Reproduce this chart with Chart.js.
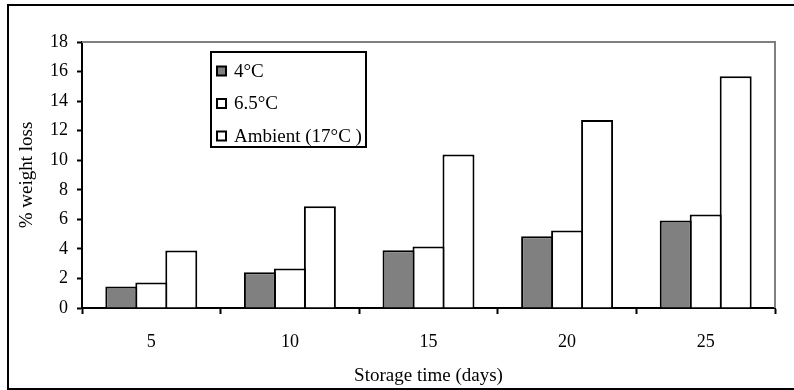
<!DOCTYPE html>
<html>
<head>
<meta charset="utf-8">
<script src="https://cdn.jsdelivr.net/npm/chart.js@4.4.1/dist/chart.umd.min.js"></script>
<style>
	html, body { margin: 0; padding: 0; background: #fff; }
	#wrap { width: 794px; height: 390px; }
</style>
</head>
<body>
<div id="wrap"><canvas id="loss-canvas" width="794" height="390"></canvas></div>
<script>
const days = ["5", "10", "15", "20", "25"];
const loss4C = [1.45, 2.42, 3.91, 4.86, 5.92];
const loss65C = [1.72, 2.67, 4.16, 5.24, 6.33];
const lossAmbient = [3.89, 6.89, 10.39, 12.72, 15.68];
const seriesNames = ["4°C", "6.5°C", "Ambient (17°C )"];
const yTicks = [0, 2, 4, 6, 8, 10, 12, 14, 16, 18];

const serif = "'Liberation Serif', 'DejaVu Serif', serif";

// frame around the figure, gray plot border, boxed legend
const decorations = {
	id: "decorations",
	beforeDraw(chart) {
		const ctx = chart.ctx;
		ctx.save();
		ctx.fillStyle = "#fff";
		ctx.fillRect(0, 0, chart.width, chart.height);
		ctx.strokeStyle = "#000";
		ctx.lineWidth = 2;
		ctx.strokeRect(8, 5, 800, 384);
		ctx.restore();
	},
	afterDatasetsDraw(chart) {
		const ctx = chart.ctx;
		const a = chart.chartArea;
		ctx.save();
		ctx.strokeStyle = "#808080";
		ctx.lineWidth = 2;
		ctx.beginPath();
		ctx.moveTo(a.left, a.top);
		ctx.lineTo(a.right, a.top);
		ctx.lineTo(a.right, a.bottom);
		ctx.stroke();

		// legend
		ctx.fillStyle = "#fff";
		ctx.fillRect(211, 52, 155, 95);
		ctx.strokeStyle = "#000";
		ctx.lineWidth = 2;
		ctx.strokeRect(211, 52, 155, 95);
		ctx.font = "19px " + serif;
		ctx.textBaseline = "middle";
		chart.data.datasets.forEach((ds, i) => {
			const cy = 71 + i * 32.5;
			ctx.fillStyle = ds.backgroundColor;
			ctx.fillRect(217, cy - 4.5, 9, 9);
			ctx.strokeStyle = "#000";
			ctx.lineWidth = 2;
			ctx.strokeRect(217, cy - 4.5, 9, 9);
			ctx.fillStyle = "#000";
			ctx.fillText(ds.label, 234, cy + 1);
		});
		ctx.restore();
	},
};

const lossCanvas = document.getElementById("loss-canvas").getContext("2d");

const barStyle = {
	borderColor: "#000",
	borderWidth: 2,
	barPercentage: 1.067,
	categoryPercentage: 0.649,
};

const lossChart = new Chart(lossCanvas, {
	type: "bar",

	data: {
		labels: days,
		datasets: [
			{ label: seriesNames[0], data: loss4C, backgroundColor: "#808080", ...barStyle },
			{ label: seriesNames[1], data: loss65C, backgroundColor: "#ffffff", ...barStyle },
			{ label: seriesNames[2], data: lossAmbient, backgroundColor: "#ffffff", ...barStyle },
		],
	},

	options: {
		responsive: false,
		animation: false,
		layout: {
			padding: { top: 42, right: 19, bottom: 0, left: 0 },
		},
		plugins: {
			legend: { display: false },
			tooltip: { enabled: false },
		},
		scales: {
			x: {
				afterFit(scale) {
					scale.height = 82;
				},
				grid: {
					offset: true,
					drawOnChartArea: false,
					drawTicks: true,
					tickLength: 6,
					tickWidth: 2,
					tickColor: "#000",
				},
				border: { color: "#000", width: 2 },
				ticks: {
					color: "#000",
					padding: 17,
					maxRotation: 0,
					font: { family: serif, size: 18 },
				},
				title: {
					display: true,
					text: "Storage time (days)",
					color: "#000",
					padding: { top: 0, bottom: 3 },
					font: { family: serif, size: 19 },
				},
			},
			y: {
				min: 0,
				max: 18,
				afterFit(scale) {
					scale.width = 82;
				},
				afterBuildTicks(scale) {
					scale.ticks = yTicks.map((v) => ({ value: v }));
				},
				grid: {
					drawOnChartArea: false,
					drawTicks: true,
					tickLength: 5,
					tickWidth: 2,
					tickColor: "#000",
				},
				border: { color: "#000", width: 2 },
				ticks: {
					color: "#000",
					padding: 9,
					font: { family: serif, size: 18 },
				},
				title: {
					display: true,
					text: "% weight loss",
					color: "#000",
					padding: { top: 16, bottom: 0 },
					font: { family: serif, size: 19 },
				},
			},
		},
	},
	plugins: [decorations],
});
</script>
</body>
</html>
